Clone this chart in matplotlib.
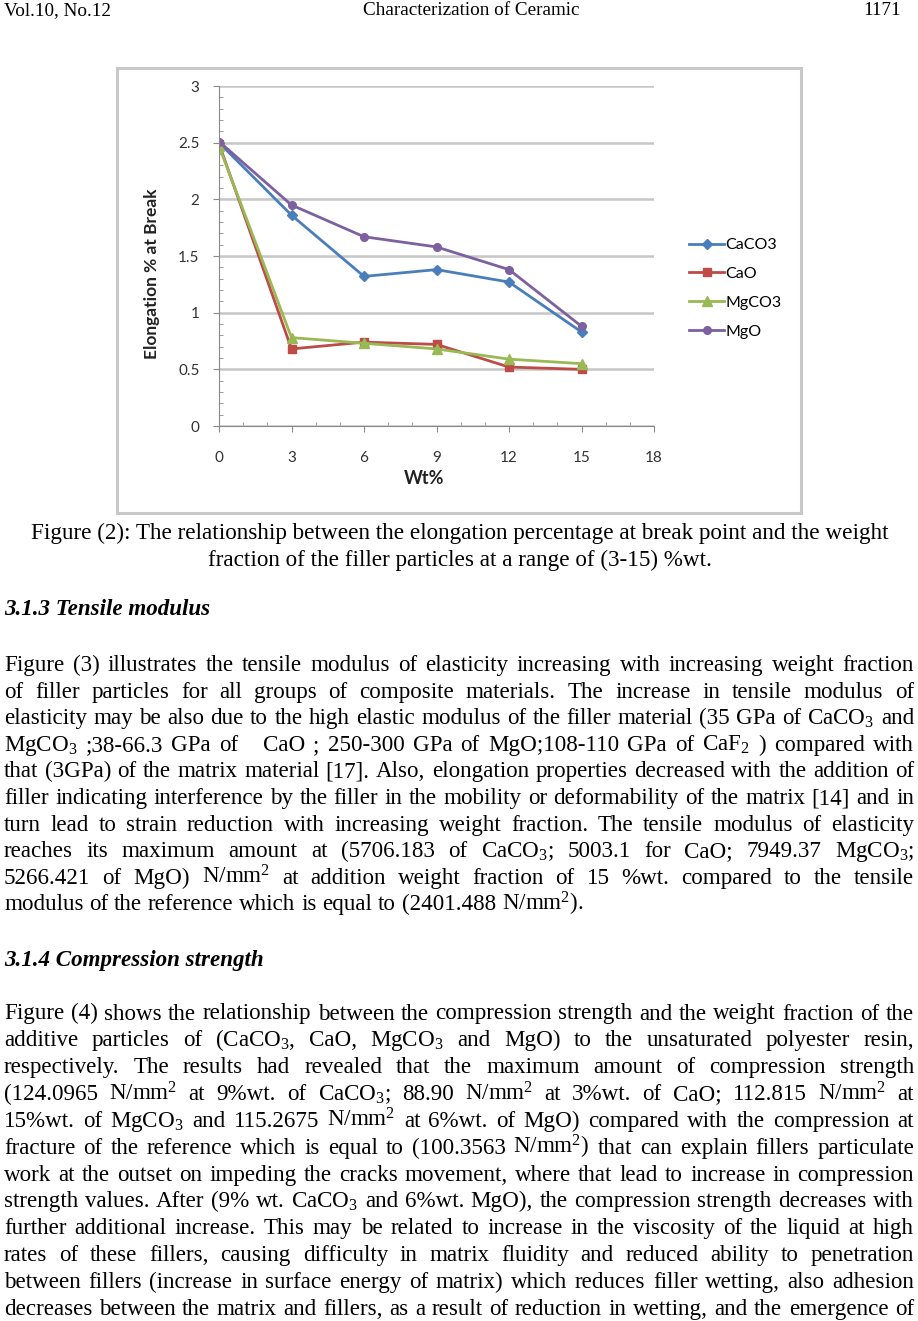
import numpy as np
import matplotlib
matplotlib.use('Agg')
import matplotlib.pyplot as plt
from matplotlib.patches import Rectangle
from matplotlib.ticker import MultipleLocator

plt.rcParams['mathtext.fontset'] = 'custom'
plt.rcParams['mathtext.rm'] = 'Liberation Serif'
plt.rcParams['mathtext.it'] = 'Liberation Serif:italic'
plt.rcParams['mathtext.bf'] = 'Liberation Serif:bold'

# ---- chart data ----
wt = [0, 3, 6, 9, 12, 15]
caco3 = [2.50, 1.86, 1.32, 1.38, 1.27, 0.83]
cao = [2.49, 0.68, 0.74, 0.72, 0.52, 0.50]
mgco3 = [2.47, 0.78, 0.73, 0.68, 0.59, 0.55]
mgo = [2.51, 1.95, 1.67, 1.58, 1.38, 0.88]
series_names = ['CaCO3', 'CaO', 'MgCO3', 'MgO']
ytick_labels = ['0', '0.5', '1', '1.5', '2', '2.5', '3']

# ---- page text ----
header = ['Vol.10, No.12', 'Characterization of Ceramic', '1171']
caption = ['Figure (2): The relationship between the elongation percentage at break point and the weight',
           'fraction of the filler particles at a range of (3-15) %wt.']
head1 = '3.1.3 Tensile modulus'
para1 = [
    'Figure (3) illustrates the tensile modulus of elasticity increasing with increasing weight fraction',
    'of filler particles for all groups of composite materials. The increase in tensile modulus of',
    'elasticity may be also due to the high elastic modulus of the filler material (35 GPa of CaCO$_3$ and',
    'MgCO$_3$ ;38-66.3 GPa of   CaO ; 250-300 GPa of MgO;108-110 GPa of CaF$_2$ ) compared with',
    'that (3GPa) of the matrix material [17]. Also, elongation properties decreased with the addition of',
    'filler indicating interference by the filler in the mobility or deformability of the matrix [14] and in',
    'turn lead to strain reduction with increasing weight fraction. The tensile modulus of elasticity',
    'reaches its maximum amount at (5706.183 of CaCO$_3$; 5003.1 for CaO; 7949.37 MgCO$_3$;',
    '5266.421 of MgO) N/mm$^2$ at addition weight fraction of 15 %wt. compared to the tensile',
    'modulus of the reference which is equal to (2401.488 N/mm$^2$).',
]
head2 = '3.1.4 Compression strength'
para2 = [
    'Figure (4) shows the relationship between the compression strength and the weight fraction of the',
    'additive particles of (CaCO$_3$, CaO, MgCO$_3$ and MgO) to the unsaturated polyester resin,',
    'respectively. The results had revealed that the maximum amount of compression strength',
    '(124.0965 N/mm$^2$ at 9%wt. of CaCO$_3$; 88.90 N/mm$^2$ at 3%wt. of CaO; 112.815 N/mm$^2$ at',
    '15%wt. of MgCO$_3$ and 115.2675 N/mm$^2$ at 6%wt. of MgO) compared with the compression at',
    'fracture of the reference which is equal to (100.3563 N/mm$^2$) that can explain fillers particulate',
    'work at the outset on impeding the cracks movement, where that lead to increase in compression',
    'strength values. After (9% wt. CaCO$_3$ and 6%wt. MgO), the compression strength decreases with',
    'further additional increase. This may be related to increase in the viscosity of the liquid at high',
    'rates of these fillers, causing difficulty in matrix fluidity and reduced ability to penetration',
    'between fillers (increase in surface energy of matrix) which reduces filler wetting, also adhesion',
    'decreases between the matrix and fillers, as a result of reduction in wetting, and the emergence of',
]

W, H = 918, 1321
fig = plt.figure(figsize=(W / 100, H / 100), dpi=100)
fig.patch.set_facecolor('white')


def fx(px):
    return px / W


def fy(py):
    return 1 - py / H


# chart picture frame
fig.add_artist(Rectangle((fx(117), fy(513)), fx(801) - fx(117), fy(68) - fy(513),
                         transform=fig.transFigure, fill=False, ec='#c8c8c8', lw=2.2))

ax = fig.add_axes([fx(219), fy(426), fx(654) - fx(219), fy(86) - fy(426)])
colors = ['#4a7ebb', '#be4b48', '#98b954', '#7d60a0']
markers = ['D', 's', '^', 'o']
sizes = [5, 5.5, 6.5, 5.5]
for ys, name, c, m, s in zip([caco3, cao, mgco3, mgo], series_names, colors, markers, sizes):
    ax.plot(wt, ys, color=c, marker=m, markersize=s, lw=2, label=name)

ax.set_xlim(0, 18)
ax.set_ylim(0, 3)
ax.set_xticks(range(0, 19, 3))
ax.set_yticks(np.arange(0, 3.01, 0.5))
ax.set_yticklabels(ytick_labels)
ax.xaxis.set_minor_locator(MultipleLocator(1))
ax.yaxis.set_minor_locator(MultipleLocator(0.1))
ax.yaxis.grid(True, color='#c6c6c6', lw=1.8)
ax.set_axisbelow(True)
for sp in ['top', 'right']:
    ax.spines[sp].set_visible(False)
for sp in ['left', 'bottom']:
    ax.spines[sp].set_color('#8a8a8a')
ax.tick_params(which='major', length=4, color='#8a8a8a', labelsize=11, labelcolor='#333333')
ax.tick_params(which='minor', direction='in', length=3, color='#8a8a8a')
ax.tick_params(axis='x', which='major', pad=14)
ax.tick_params(axis='y', which='major', pad=10)
for lab in ax.get_xticklabels() + ax.get_yticklabels():
    lab.set_family('Lato')

fig.text(fx(152), fy(274), 'Elongation % at Break', rotation=90, ha='center', va='center',
         fontsize=12.5, weight='bold', family='Lato', color='#222222')
fig.text(fx(424), fy(479), 'Wt%', ha='center', va='center',
         fontsize=13, weight='bold', family='Lato', color='#222222')

fig.legend(*ax.get_legend_handles_labels(), loc='upper left', bbox_to_anchor=(fx(689), fy(238)),
           frameon=False, prop={'family': 'Lato', 'size': 11.5}, handlelength=2.2,
           handletextpad=0.1, labelspacing=0.92, borderpad=0, borderaxespad=0)

# ---- text of the page ----
renderer = fig.canvas.get_renderer()
SERIF = 'Liberation Serif'
BODY = 16.6


def put_line(s, y, size=BODY, justify=True, x0=4, x1=914, **kw):
    words = s.split(' ')
    texts, widths = [], []
    for w in words:
        if w == '':
            texts.append(None)
            widths.append(0)
            continue
        t = fig.text(0, fy(y), w, fontsize=size, family=SERIF, va='baseline', ha='left', **kw)
        widths.append(t.get_window_extent(renderer).width)
        texts.append(t)
    if justify and len(words) > 1:
        gap = (x1 - x0 - sum(widths)) / (len(words) - 1)
    else:
        gap = size * 100 / 72 * 0.25
    x = x0
    for t, w in zip(texts, widths):
        if t is not None:
            t.set_x(fx(x))
        x += w + gap


fig.text(fx(4), fy(15), header[0], fontsize=13.8, family=SERIF, va='baseline', ha='left')
fig.text(fx(471), fy(15), header[1], fontsize=13.8, family=SERIF, va='baseline', ha='center')
fig.text(fx(901), fy(15), header[2], fontsize=13.8, family=SERIF, va='baseline', ha='right')

fig.text(fx(459.5), fy(539), caption[0], fontsize=16.7, family=SERIF, va='baseline', ha='center')
fig.text(fx(459.5), fy(566), caption[1], fontsize=16.7, family=SERIF, va='baseline', ha='center')

fig.text(fx(4), fy(615), head1, fontsize=BODY, family=SERIF, va='baseline', ha='left',
         weight='bold', style='italic')
for i, line in enumerate(para1):
    put_line(line, 671 + i * 26.6, justify=(i < len(para1) - 1))

fig.text(fx(4), fy(966), head2, fontsize=BODY, family=SERIF, va='baseline', ha='left',
         weight='bold', style='italic')
for i, line in enumerate(para2):
    put_line(line, 1019.5 + i * 26.85, justify=True)

fig.savefig('out.png', dpi=100)
